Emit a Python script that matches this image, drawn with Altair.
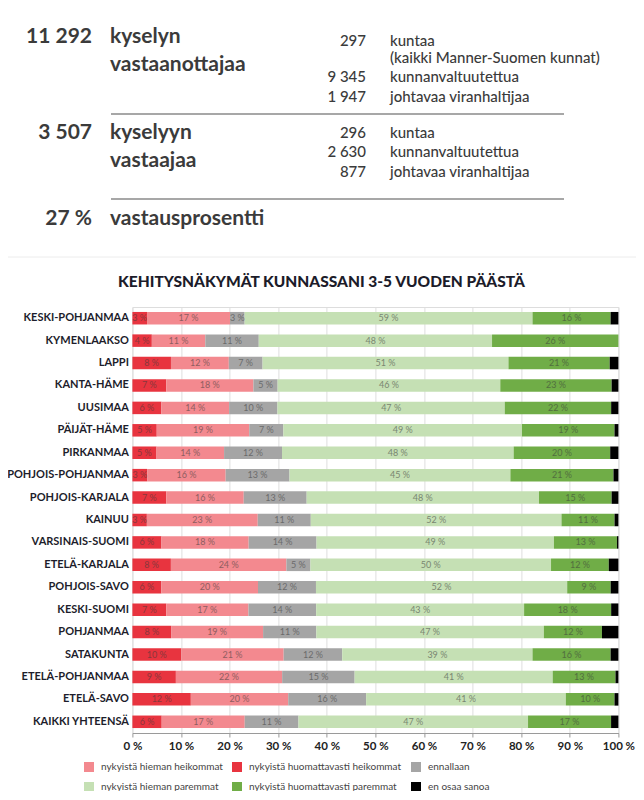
import altair as alt
import pandas as pd

# ---------------- data ----------------
regions = ["KESKI-POHJANMAA", "KYMENLAAKSO", "LAPPI", "KANTA-HÄME", "UUSIMAA",
           "PÄIJÄT-HÄME", "PIRKANMAA", "POHJOIS-POHJANMAA", "POHJOIS-KARJALA",
           "KAINUU", "VARSINAIS-SUOMI", "ETELÄ-KARJALA", "POHJOIS-SAVO",
           "KESKI-SUOMI", "POHJANMAA", "SATAKUNTA", "ETELÄ-POHJANMAA",
           "ETELÄ-SAVO", "KAIKKI YHTEENSÄ"]

huom_heikommat = [3, 4, 8, 7, 6, 5, 5, 3, 7, 3, 6, 8, 6, 7, 8, 10, 9, 12, 6]
hiem_heikommat = [17, 11, 12, 18, 14, 19, 14, 16, 16, 23, 18, 24, 20, 17, 19, 21, 22, 20, 17]
ennallaan = [3, 11, 7, 5, 10, 7, 12, 13, 13, 11, 14, 5, 12, 14, 11, 12, 15, 16, 11]
hiem_paremmat = [59, 48, 51, 46, 47, 49, 48, 45, 48, 52, 49, 50, 52, 43, 47, 39, 41, 41, 47]
huom_paremmat = [16, 26, 21, 23, 22, 19, 20, 21, 15, 11, 13, 12, 9, 18, 12, 16, 13, 10, 17]
en_osaa = [1.6, 0, 1.8, 1.4, 1.5, 0.8, 1.7, 1.0, 1.4, 0.8, 0.3, 2.0, 1.6, 1.5, 3.4, 1.6, 0.6, 0.8, 1.5]

categories = ["nykyistä huomattavasti heikommat", "nykyistä hieman heikommat",
              "ennallaan", "nykyistä hieman paremmat",
              "nykyistä huomattavasti paremmat", "en osaa sanoa"]
legend_order = ["nykyistä hieman heikommat", "nykyistä huomattavasti heikommat",
                "ennallaan", "nykyistä hieman paremmat",
                "nykyistä huomattavasti paremmat", "en osaa sanoa"]
legend_colors = ["#F3898F", "#E8343F", "#A5A5A5", "#C5E0B4", "#70AD47", "#000000"]

title_text = "KEHITYSNÄKYMÄT KUNNASSANI 3-5 VUODEN PÄÄSTÄ"

summary_numbers = ["11 292", "3 507", "27 %"]
summary_labels = [["kyselyn", "vastaanottajaa"], ["kyselyyn", "vastaajaa"], ["vastausprosentti"]]
detail_numbers = ["297", "", "9 345", "1 947", "296", "2 630", "877"]
detail_labels = ["kuntaa", "(kaikki Manner-Suomen kunnat)", "kunnanvaltuutettua",
                 "johtavaa viranhaltijaa", "kuntaa", "kunnanvaltuutettua",
                 "johtavaa viranhaltijaa"]

series = [huom_heikommat, hiem_heikommat, ennallaan, hiem_paremmat, huom_paremmat, en_osaa]
rows = []
for i, r in enumerate(regions):
    for k, cat in enumerate(categories):
        rows.append({"region": r, "cat": cat, "order": k, "value": series[k][i]})
df = pd.DataFrame(rows)

# ---------------- layout (page pixel coordinates) ----------------
OX, OY = 132.4, 307.0        # plot-area origin on the page
W, H = 486, 426
FONT = "Lato"
TXT = "#3b3b3b"

y_axis = alt.Axis(title=None, domain=False, ticks=False, labelFontWeight="bold",
                  labelFontSize=11, labelColor="#1d1d2b", labelPadding=4,
                  labelFont=FONT, grid=False, labelLimit=200)
x_axis = alt.Axis(title=None, values=list(range(0, 101, 10)),
                  labelExpr="datum.value + ' %'", grid=True, gridColor="#dedede",
                  domainColor="#9a9a9a", tickColor="#9a9a9a", tickSize=4,
                  labelFontWeight="bold", labelFontSize=11.5, labelColor="#222222",
                  labelPadding=3, labelFont=FONT, labelFlush=False, labelOverlap=False)

ys = alt.Y("region:N", sort=regions, axis=y_axis,
           scale=alt.Scale(paddingInner=0.442, paddingOuter=0.221))

base = alt.Chart(df).transform_stack(
    stack="value", groupby=["region"], as_=["v0", "v1"], offset="normalize",
    sort=[alt.SortField("order", order="ascending")]
).transform_calculate(
    x0="datum.v0*100", x1="datum.v1*100", xm="(datum.v0+datum.v1)*50",
    label="format(datum.value, 'd') + ' %'"
)

bars = base.mark_bar().encode(
    y=ys,
    x=alt.X("x0:Q", scale=alt.Scale(domain=[0, 100], nice=False), axis=x_axis),
    x2="x1:Q",
    color=alt.Color("cat:N", scale=alt.Scale(domain=legend_order, range=legend_colors),
                    legend=alt.Legend(orient="none", legendX=84 - OX, legendY=455,
                                      direction="horizontal", columns=3, title=None,
                                      symbolType="square", symbolSize=100,
                                      symbolStrokeWidth=0, labelFontSize=10,
                                      labelFont=FONT, labelColor="#444444",
                                      columnPadding=9, rowPadding=10, labelOffset=7,
                                      labelLimit=300)),
)

labels = base.transform_filter("datum.cat != 'en osaa sanoa'").mark_text(
    fontSize=9, font=FONT, color="#3a3a3a", opacity=0.55
).encode(
    y=ys,
    x=alt.X("xm:Q", scale=alt.Scale(domain=[0, 100], nice=False), axis=x_axis),
    text="label:N",
)

one = pd.DataFrame({"k": [0]})


def txt(s, x, y, size, weight="bold", align="left", color=TXT):
    return alt.Chart(one).mark_text(
        text=s, align=align, baseline="alphabetic", fontSize=size,
        fontWeight=weight, font=FONT, color=color
    ).encode(x=alt.value(x - OX), y=alt.value(y - OY))


def hline(x1, x2, y, color, width):
    return alt.Chart(one).mark_rule(color=color, strokeWidth=width).encode(
        x=alt.value(x1 - OX), x2=alt.value(x2 - OX), y=alt.value(y - OY))


layers = [bars, labels]

# summary block
sum_baselines = [43, 139, 225]
label_lines = [[43, 71], [139, 167], [225]]
for n, b, labs, lys in zip(summary_numbers, sum_baselines, summary_labels, label_lines):
    layers.append(txt(n, 92, b, 21, align="right"))
    for l, ly in zip(labs, lys):
        layers.append(txt(l, 110, ly, 21))

det_baselines = [46, 63, 82, 102, 138, 157, 177]
for n, l, b in zip(detail_numbers, detail_labels, det_baselines):
    if n:
        layers.append(txt(n, 366, b, 15, weight=500, align="right"))
    layers.append(txt(l, 390, b, 15, weight=500))

layers.append(hline(111, 564, 114, "#8a8a8a", 1.5))
layers.append(hline(111, 564, 199, "#8a8a8a", 1.5))
layers.append(hline(8, 636, 257, "#ececec", 1))
layers.append(txt(title_text, 321.5, 287, 15.5, weight=900, align="center", color="#1c1c2a"))

pad_left = OX - 8
pad_right = 628 - pad_left - W
chart = alt.layer(*layers).properties(
    width=W, height=H,
    autosize=alt.AutoSizeParams(type="none"),
    padding={"left": pad_left, "top": OY - 8, "right": pad_right, "bottom": 58},
).configure_view(stroke=None).configure(background="white")

chart.save("out.html", embed_options={"renderer": "svg", "actions": False})
